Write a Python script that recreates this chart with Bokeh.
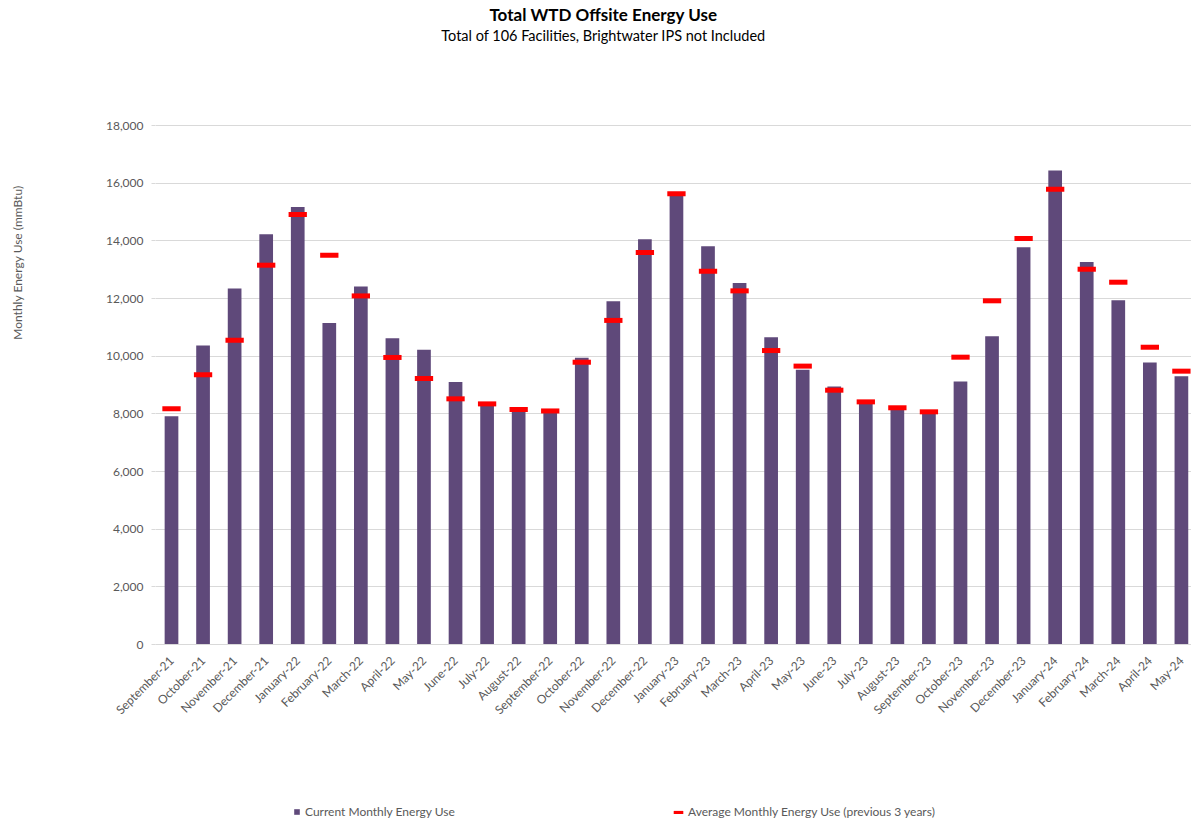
import math
from bokeh.plotting import figure
from bokeh.layouts import column, row
from bokeh.models import (Range1d, FixedTicker, NumeralTickFormatter, Label, Legend,
                          LegendItem, ColumnDataSource)
from bokeh.embed import file_html
from bokeh.resources import INLINE

months = ["September-21", "October-21", "November-21", "December-21", "January-22",
          "February-22", "March-22", "April-22", "May-22", "June-22", "July-22",
          "August-22", "September-22", "October-22", "November-22", "December-22",
          "January-23", "February-23", "March-23", "April-23", "May-23", "June-23",
          "July-23", "August-23", "September-23", "October-23", "November-23",
          "December-23", "January-24", "February-24", "March-24", "April-24", "May-24"]

current_use = [7920, 10370, 12345, 14230, 15170, 11150, 12415, 10625, 10220, 9100, 8360,
               8140, 8060, 9945, 11905, 14055, 15600, 13815, 12540, 10655, 9530, 8945,
               8380, 8175, 8035, 9120, 10690, 13780, 16440, 13270, 11940, 9780, 9300]

average_use = [8175, 9355, 10555, 13155, 14915, 13500, 12090, 9955, 9225, 8520, 8345,
               8150, 8100, 9790, 11240, 13595, 15630, 12945, 12265, 10195, 9655, 8820,
               8415, 8210, 8070, 9965, 11920, 14080, 15790, 13015, 12565, 10310, 9480]

y_ticks = [0, 2000, 4000, 6000, 8000, 10000, 12000, 14000, 16000, 18000]

FONT = "Lato"
GREY = "#595959"
BAR_COLOR = "#5f497a"
AVG_COLOR = "#ff0000"
STRIP_W = 30

idx = list(range(len(months)))
src = ColumnDataSource(dict(x=idx, cur=current_use, avg=average_use))

# main chart: frame spans from the page top down to the zero line
p = figure(width=1191 - STRIP_W, height=790, output_backend="svg", toolbar_location=None,
           x_range=Range1d(-0.507, 32.32), y_range=Range1d(0, 18000 * 644 / 519),
           min_border_left=155 - STRIP_W, min_border_right=0, min_border_top=0,
           min_border_bottom=146, title=None)
p.outline_line_color = None
p.background_fill_color = "white"

bars = p.vbar(x="x", top="cur", width=0.434, bottom=0, source=src,
              fill_color=BAR_COLOR, line_color=None)
dashes = p.rect(x="x", y="avg", width=0.58, height=5, height_units="screen",
                source=src, fill_color=AVG_COLOR, line_color=None)

p.xaxis.ticker = FixedTicker(ticks=idx)
p.xaxis.major_label_overrides = {i: m for i, m in zip(idx, months)}
p.xaxis.major_label_orientation = math.pi / 4
p.xaxis.major_tick_line_color = None
p.xaxis.major_tick_out = 0
p.xaxis.major_tick_in = 0
p.xaxis.minor_tick_line_color = None
p.xaxis.axis_line_color = "#d9d9d9"
p.xaxis.major_label_standoff = 14
p.xaxis.major_label_text_font = FONT
p.xaxis.major_label_text_font_size = "12px"
p.xaxis.major_label_text_color = GREY

p.yaxis.ticker = FixedTicker(ticks=y_ticks)
p.yaxis.formatter = NumeralTickFormatter(format="0,0")
p.yaxis.axis_line_color = None
p.yaxis.major_tick_line_color = "#d9d9d9"
p.yaxis.major_tick_out = 4
p.yaxis.major_tick_in = 0
p.yaxis.minor_tick_line_color = None
p.yaxis.major_label_standoff = 8
p.yaxis.major_label_text_font = FONT
p.yaxis.major_label_text_font_size = "12px"
p.yaxis.major_label_text_color = GREY

p.xgrid.grid_line_color = None
p.ygrid.grid_line_color = "#d9d9d9"
p.ygrid.grid_line_width = 1

p.add_layout(Label(x=448, y=630, x_units="screen", y_units="screen",
                   text="Total WTD Offsite Energy Use", text_align="center",
                   text_baseline="middle", text_font=FONT, text_font_size="17px",
                   text_font_style="bold", text_color="#000000"))
p.add_layout(Label(x=448, y=609, x_units="screen", y_units="screen",
                   text="Total of 106 Facilities, Brightwater IPS not Included",
                   text_align="center", text_baseline="middle", text_font=FONT,
                   text_font_size="14.5px", text_color="#000000"))

# legend strip underneath (key renderers share the data but sit outside its view)
lg = figure(width=1191 - STRIP_W, height=33, output_backend="svg", toolbar_location=None,
            x_range=Range1d(-1001, -1000), y_range=Range1d(-1001, -1000),
            x_axis_type=None, y_axis_type=None, min_border_left=0, min_border_right=0,
            min_border_top=0, min_border_bottom=0, title=None)
lg.outline_line_color = None
lg.xgrid.visible = False
lg.ygrid.visible = False
bars_key = lg.vbar(x="x", top="cur", width=0.434, bottom=0, source=src,
                   fill_color=BAR_COLOR, line_color=None)
dash_key = lg.rect(x="x", y="avg", width=0.58, height=5, height_units="screen",
                   source=src, fill_color=AVG_COLOR, line_color=None)

leg1 = Legend(items=[LegendItem(label="Current Monthly Energy Use", renderers=[bars_key])],
              location=(138, 4), orientation="horizontal", glyph_width=7,
              glyph_height=7, label_height=14, label_standoff=5, padding=0, margin=0,
              border_line_color=None, background_fill_alpha=0,
              label_text_font=FONT, label_text_font_size="12px",
              label_text_color=GREY)
leg2 = Legend(items=[LegendItem(label="Average Monthly Energy Use (previous 3 years)",
                                renderers=[dash_key])],
              location=(517, 4), orientation="horizontal", glyph_width=12,
              glyph_height=4, label_height=14, label_standoff=4, padding=0, margin=0,
              border_line_color=None, background_fill_alpha=0,
              label_text_font=FONT, label_text_font_size="12px",
              label_text_color=GREY)
lg.add_layout(leg1)
lg.add_layout(leg2)

# narrow strip on the left holding the y axis title
strip = figure(width=STRIP_W, height=823, output_backend="svg", toolbar_location=None,
               x_range=Range1d(0, 1), y_range=Range1d(0, 1), x_axis_type=None,
               y_axis_type=None, min_border_left=0, min_border_right=0,
               min_border_top=0, min_border_bottom=0, title=None)
strip.outline_line_color = None
strip.xgrid.visible = False
strip.ygrid.visible = False
strip.add_layout(Label(x=17, y=823 - 262, x_units="screen", y_units="screen",
                       text="Monthly Energy Use (mmBtu)", angle=math.pi / 2,
                       text_align="center", text_baseline="middle", text_font=FONT,
                       text_font_size="12px", text_color=GREY))

layout = row(strip, column(p, lg, spacing=0), spacing=0)
open("out.html", "w").write(file_html(layout, INLINE))
